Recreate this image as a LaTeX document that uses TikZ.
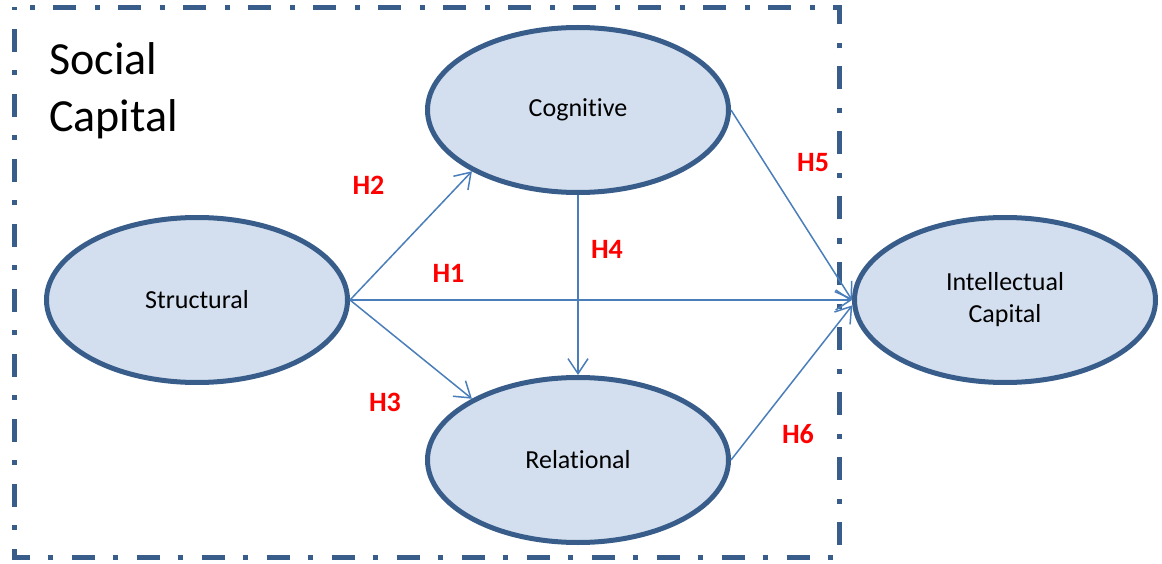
\documentclass[tikz,border=0pt]{standalone}
\usepackage{fontspec}
\setmainfont[Ligatures=NoCommon]{Carlito}
\usetikzlibrary{shapes.geometric,arrows.meta}
\definecolor{outline}{RGB}{56,93,138}
\definecolor{efill}{RGB}{211,223,238}
\definecolor{conn}{RGB}{74,126,187}
\tikzset{
  construct/.style={ellipse, draw=outline, fill=efill, line width=5pt,
    minimum width=301pt, minimum height=165pt, inner sep=0pt, align=center,
    font=\fontsize{26}{32}\selectfont},
  link/.style={draw=conn, line width=1.5pt,
    -{Straight Barb[length=15pt,width=20pt,line width=1.5pt]}},
  hyp/.style={text=red, font=\fontsize{28}{32}\selectfont\bfseries, inner sep=0pt},
  frame/.style={draw=outline, line width=5pt,
    dash pattern=on 5pt off 19pt on 23pt off 18pt, dash phase=2.5pt}
}
\begin{document}
\begin{tikzpicture}[x=1pt,y=-1pt]
\useasboundingbox (0,0) rectangle (1162,564);
\draw[frame] (14.5,7.5) rectangle (839,557);
\node[anchor=base west, inner sep=0pt, font=\fontsize{46}{57}\selectfont] (soc) at (49,75) {Social};
\node[anchor=base west, inner sep=0pt, font=\fontsize{46}{57}\selectfont] (cap) at (49,132) {Capital};
\node[construct] (S) at (197,300) {Structural};
\node[construct] (C) at (578,110) {Cognitive};
\node[construct] (R) at (578,460) {Relational};
\node[construct] (I) at (1005,300) {Intellectual\\Capital};
\draw[link] (S.east) -- (I.west);
\draw[link] (S.east) -- (C.210);
\draw[link] (S.east) -- (R.150);
\draw[link] (C.south) -- (R.north);
\draw[link] (C.east) -- (I.west);
\draw[link] (R.east) -- (I.182);
\node[hyp] (h1) at (448.5,273) {H1};
\node[hyp] (h2) at (368.5,185) {H2};
\node[hyp] (h3) at (385,402) {H3};
\node[hyp] (h4) at (607,249) {H4};
\node[hyp] (h5) at (813,163) {H5};
\node[hyp] (h6) at (798,434) {H6};
\end{tikzpicture}
\end{document}
